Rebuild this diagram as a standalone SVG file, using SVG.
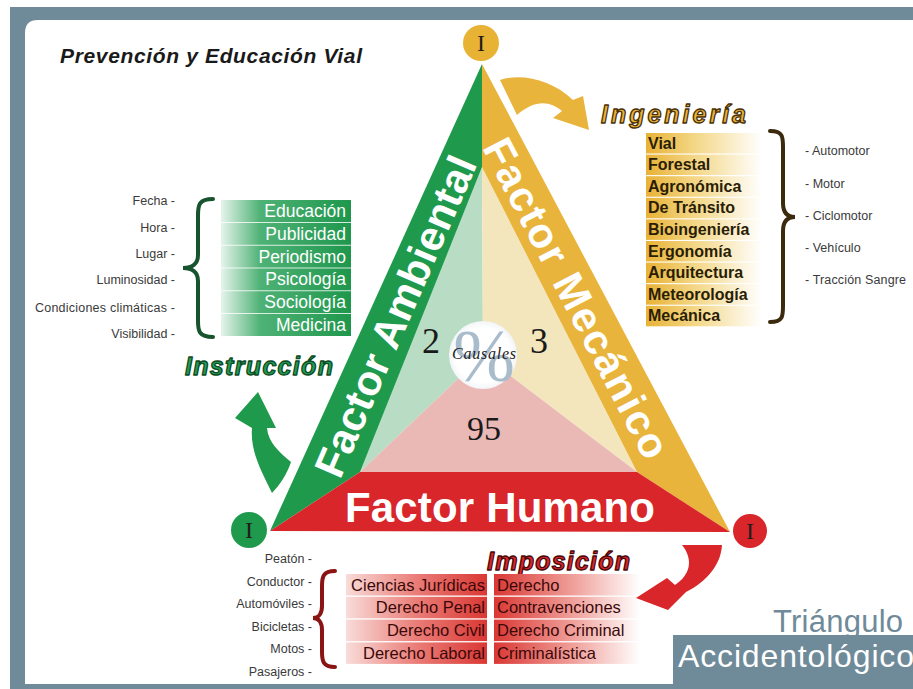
<svg xmlns="http://www.w3.org/2000/svg" width="913" height="689" viewBox="0 0 913 689">
<style>
.lbl{font-family:"Liberation Sans",Arial,sans-serif;font-size:12.5px;fill:#3a3a3a}
.lr{text-anchor:end}
.gt{font-family:"Liberation Sans",Arial,sans-serif;font-size:17.5px;fill:#ffffff;text-anchor:end}
.yt{font-family:"Liberation Sans",Arial,sans-serif;font-size:16px;font-weight:bold;fill:#2a1d05}
.rt{font-family:"Liberation Sans",Arial,sans-serif;font-size:16.5px;fill:#3b0808}
.fac{font-family:"Liberation Sans",Arial,sans-serif;font-weight:bold;font-size:42px;fill:#ffffff;text-anchor:middle}
.num{font-family:"Liberation Serif","Times New Roman",serif;fill:#1a1a1a;text-anchor:middle}
.eye{font-family:"Liberation Serif","Times New Roman",serif;font-size:24px;fill:#1e1e1e;text-anchor:middle}
.hd{font-family:"Liberation Sans",Arial,sans-serif;font-weight:bold;font-style:italic;font-size:25px;stroke-width:1.3;stroke-linejoin:round}
.brace{fill:none;stroke-width:4;stroke-linecap:round}
</style>
<defs>
<linearGradient id="gRow" x1="0" y1="0" x2="1" y2="0">
<stop offset="0" stop-color="#e6f4ec"/><stop offset="0.3" stop-color="#4fb276"/><stop offset="1" stop-color="#1e974c"/>
</linearGradient>
<linearGradient id="yRow" x1="0" y1="0" x2="1" y2="0">
<stop offset="0" stop-color="#e8b236"/><stop offset="0.45" stop-color="#f4d98c"/><stop offset="1" stop-color="#ffffff"/>
</linearGradient>
<linearGradient id="rL" x1="0" y1="0" x2="1" y2="0">
<stop offset="0" stop-color="#f8dcd9"/><stop offset="0.5" stop-color="#ea7c77"/><stop offset="1" stop-color="#da3834"/>
</linearGradient>
<linearGradient id="rR" x1="0" y1="0" x2="1" y2="0">
<stop offset="0" stop-color="#da3834"/><stop offset="0.55" stop-color="#f0a19c"/><stop offset="1" stop-color="#ffffff"/>
</linearGradient>
<radialGradient id="circ" cx="0.5" cy="0.5" r="0.5">
<stop offset="0.8" stop-color="#ffffff"/><stop offset="1" stop-color="#f2f5f7"/>
</radialGradient>
</defs>

<g id="frame">
<rect x="0" y="0" width="913" height="689" fill="#ffffff"/>
<rect x="10" y="7" width="903" height="682" fill="#6f8a99"/>
<path d="M25,33 Q25,20 38,20 L913,20 L913,684 L25,684 Z" fill="#ffffff"/>
</g>

<g id="title">
<text x="60" y="63" font-family="Liberation Sans,Arial,sans-serif" font-weight="bold" font-style="italic" font-size="21" fill="#1a1a1a" textLength="302">Prevención y Educación Vial</text>
</g>

<g id="triangle">
<path d="M482,167 L483,355 L360,472 Z" fill="#b8dcc4"/>
<path d="M482,167 L637,472 L483,355 Z" fill="#f3e6bd"/>
<path d="M360,472 L483,355 L637,472 Z" fill="#ebb9b5"/>
<path id="band-ambiental" d="M482,64 L270,531 L360,472 L482,167 Z" fill="#1f9a4c"/>
<path id="band-mecanico" d="M482,64 L482,167 L637,472 L730,532 Z" fill="#e9b43c"/>
<path id="band-humano" d="M270,531 L360,472 L637,472 L730,532 Z" fill="#d9262a"/>
<text class="fac" transform="translate(395,316) rotate(-66.5)" y="15" textLength="345">Factor Ambiental</text>
<text class="fac" transform="translate(577,298) rotate(62.5)" y="15" textLength="355">Factor Mecánico</text>
<text class="fac" x="500" y="522" textLength="310">Factor Humano</text>
</g>

<g id="center">
<circle cx="483" cy="355" r="34" fill="url(#circ)"/>
<text x="484" y="381" font-family="Liberation Serif,serif" font-size="74" fill="#a9bccc" text-anchor="middle">%</text>
<text x="484" y="359" font-family="Liberation Serif,serif" font-style="italic" font-size="16" fill="#222" text-anchor="middle" textLength="64">Causales</text>
<text class="num" x="431" y="353" font-size="36">2</text>
<text class="num" x="539" y="353" font-size="36">3</text>
<text class="num" x="484" y="440" font-size="34">95</text>
</g>

<g id="vertex-top">
<circle cx="481" cy="43" r="18" fill="#e8b234"/>
<text class="eye" x="481" y="51">I</text>
</g>
<g id="vertex-left">
<circle cx="249" cy="530" r="18" fill="#1f9a4c"/>
<text class="eye" x="249" y="538">I</text>
</g>
<g id="vertex-right">
<circle cx="750" cy="531" r="17" fill="#d9262a"/>
<text class="eye" x="750" y="539">I</text>
</g>

<g id="ambiental-list">
<text class="lbl lr" x="175" y="205">Fecha -</text>
<text class="lbl lr" x="175" y="232">Hora -</text>
<text class="lbl lr" x="175" y="258">Lugar -</text>
<text class="lbl lr" x="175" y="284">Luminosidad -</text>
<text class="lbl lr" x="175" y="312" textLength="140">Condiciones climáticas -</text>
<text class="lbl lr" x="175" y="338">Visibilidad -</text>
<path class="brace" stroke="#17532f" d="M213,199 C199,199 198,205 198,215 L198,255 C198,264 192,268 183,268 C192,268 198,272 198,281 L198,321 C198,331 199,337 213,337"/>
<rect x="221" y="200" width="130" height="22" fill="url(#gRow)"/>
<rect x="221" y="222.8" width="130" height="22" fill="url(#gRow)"/>
<rect x="221" y="245.6" width="130" height="22" fill="url(#gRow)"/>
<rect x="221" y="268.4" width="130" height="22" fill="url(#gRow)"/>
<rect x="221" y="291.2" width="130" height="22" fill="url(#gRow)"/>
<rect x="221" y="314" width="130" height="22" fill="url(#gRow)"/>
<text class="gt" x="346" y="217">Educación</text>
<text class="gt" x="346" y="239.8">Publicidad</text>
<text class="gt" x="346" y="262.6">Periodismo</text>
<text class="gt" x="346" y="285.4">Psicología</text>
<text class="gt" x="346" y="308.2">Sociología</text>
<text class="gt" x="346" y="331">Medicina</text>
<text class="hd" x="185" y="375" fill="#239b4f" stroke="#0d4a25" textLength="148">Instrucción</text>
</g>

<g id="mecanico-list">
<text class="hd" x="601" y="123" fill="#ebb43a" stroke="#4a3008" textLength="145">Ingeniería</text>
<rect x="646" y="133" width="116" height="20.5" fill="url(#yRow)"/>
<rect x="646" y="154.6" width="116" height="20.5" fill="url(#yRow)"/>
<rect x="646" y="176.2" width="116" height="20.5" fill="url(#yRow)"/>
<rect x="646" y="197.8" width="116" height="20.5" fill="url(#yRow)"/>
<rect x="646" y="219.4" width="116" height="20.5" fill="url(#yRow)"/>
<rect x="646" y="241" width="116" height="20.5" fill="url(#yRow)"/>
<rect x="646" y="262.6" width="116" height="20.5" fill="url(#yRow)"/>
<rect x="646" y="284.2" width="116" height="20.5" fill="url(#yRow)"/>
<rect x="646" y="305.8" width="116" height="20.5" fill="url(#yRow)"/>
<text class="yt" x="648" y="148.5">Vial</text>
<text class="yt" x="648" y="170.1">Forestal</text>
<text class="yt" x="648" y="191.7">Agronómica</text>
<text class="yt" x="648" y="213.3">De Tránsito</text>
<text class="yt" x="648" y="234.9">Bioingeniería</text>
<text class="yt" x="648" y="256.5">Ergonomía</text>
<text class="yt" x="648" y="278.1">Arquitectura</text>
<text class="yt" x="648" y="299.7">Meteorología</text>
<text class="yt" x="648" y="321.3">Mecánica</text>
<path class="brace" stroke="#3b2a0e" d="M770,131 C783,131 783,137 783,147 L783,203 C783,212 787,217 795,217 C787,217 783,222 783,231 L783,306 C783,316 783,322 770,322"/>
<text class="lbl" x="805" y="155">- Automotor</text>
<text class="lbl" x="805" y="188">- Motor</text>
<text class="lbl" x="805" y="220">- Ciclomotor</text>
<text class="lbl" x="805" y="252">- Vehículo</text>
<text class="lbl" x="805" y="284" textLength="101">- Tracción Sangre</text>
</g>

<g id="humano-list">
<text class="lbl lr" x="312" y="563">Peatón -</text>
<text class="lbl lr" x="312" y="586">Conductor -</text>
<text class="lbl lr" x="312" y="608">Automóviles -</text>
<text class="lbl lr" x="312" y="631">Bicicletas -</text>
<text class="lbl lr" x="312" y="653">Motos -</text>
<text class="lbl lr" x="312" y="676">Pasajeros -</text>
<path class="brace" stroke="#8a1414" d="M335,571 C323,571 322,577 322,586 L322,606 C322,613 319,618 313,618 C319,618 322,623 322,630 L322,652 C322,661 323,667 335,667"/>
<text class="hd" x="487" y="570" fill="#d9262a" stroke="#4a0808" textLength="143">Imposición</text>
<rect x="346" y="574" width="141" height="21.5" fill="url(#rL)"/>
<rect x="346" y="596.8" width="141" height="21.5" fill="url(#rL)"/>
<rect x="346" y="619.6" width="141" height="21.5" fill="url(#rL)"/>
<rect x="346" y="642.4" width="141" height="21.5" fill="url(#rL)"/>
<rect x="494" y="574" width="146" height="21.5" fill="url(#rR)"/>
<rect x="494" y="596.8" width="146" height="21.5" fill="url(#rR)"/>
<rect x="494" y="619.6" width="146" height="21.5" fill="url(#rR)"/>
<rect x="494" y="642.4" width="146" height="21.5" fill="url(#rR)"/>
<text class="rt lr" x="485" y="590.5">Ciencias Jurídicas</text>
<text class="rt lr" x="485" y="613.3">Derecho Penal</text>
<text class="rt lr" x="485" y="636.1">Derecho Civil</text>
<text class="rt lr" x="485" y="658.9">Derecho Laboral</text>
<text class="rt" x="497" y="590.5">Derecho</text>
<text class="rt" x="497" y="613.3">Contravenciones</text>
<text class="rt" x="497" y="636.1">Derecho Criminal</text>
<text class="rt" x="497" y="658.9">Criminalística</text>
</g>

<g id="caption">
<rect x="673" y="635" width="240" height="54" fill="#6f8a99"/>
<text x="773" y="632" font-family="Liberation Sans,Arial,sans-serif" font-size="31" fill="#6f8a99" textLength="130">Triángulo</text>
<text x="678" y="667" font-family="Liberation Sans,Arial,sans-serif" font-size="32" fill="#ffffff" textLength="236">Accidentológico</text>
</g>

<g id="connectors">
<path id="arrow-instruccion" fill="#1f9a4c" d="M272,493 C262,472 250,452 252,428 L235,418 L258,392 L276,428 L267,428 C268,442 279,452 291,462 C287,474 280,485 272,493 Z"/>
<path id="arrow-ingenieria" fill="#e9b43c" d="M500,80 C522,73 552,80 573,100 L583,96 L589,130 L553,118 L562,111 C550,101 535,99 517,115 Z"/>
<path id="arrow-imposicion" fill="#d9262a" d="M682,545 L722,545 C721,565 706,582 686,592 L668,610 L636,598 L667,578 L675,585 C690,575 694,560 682,545 Z"/>
</g>
</svg>
